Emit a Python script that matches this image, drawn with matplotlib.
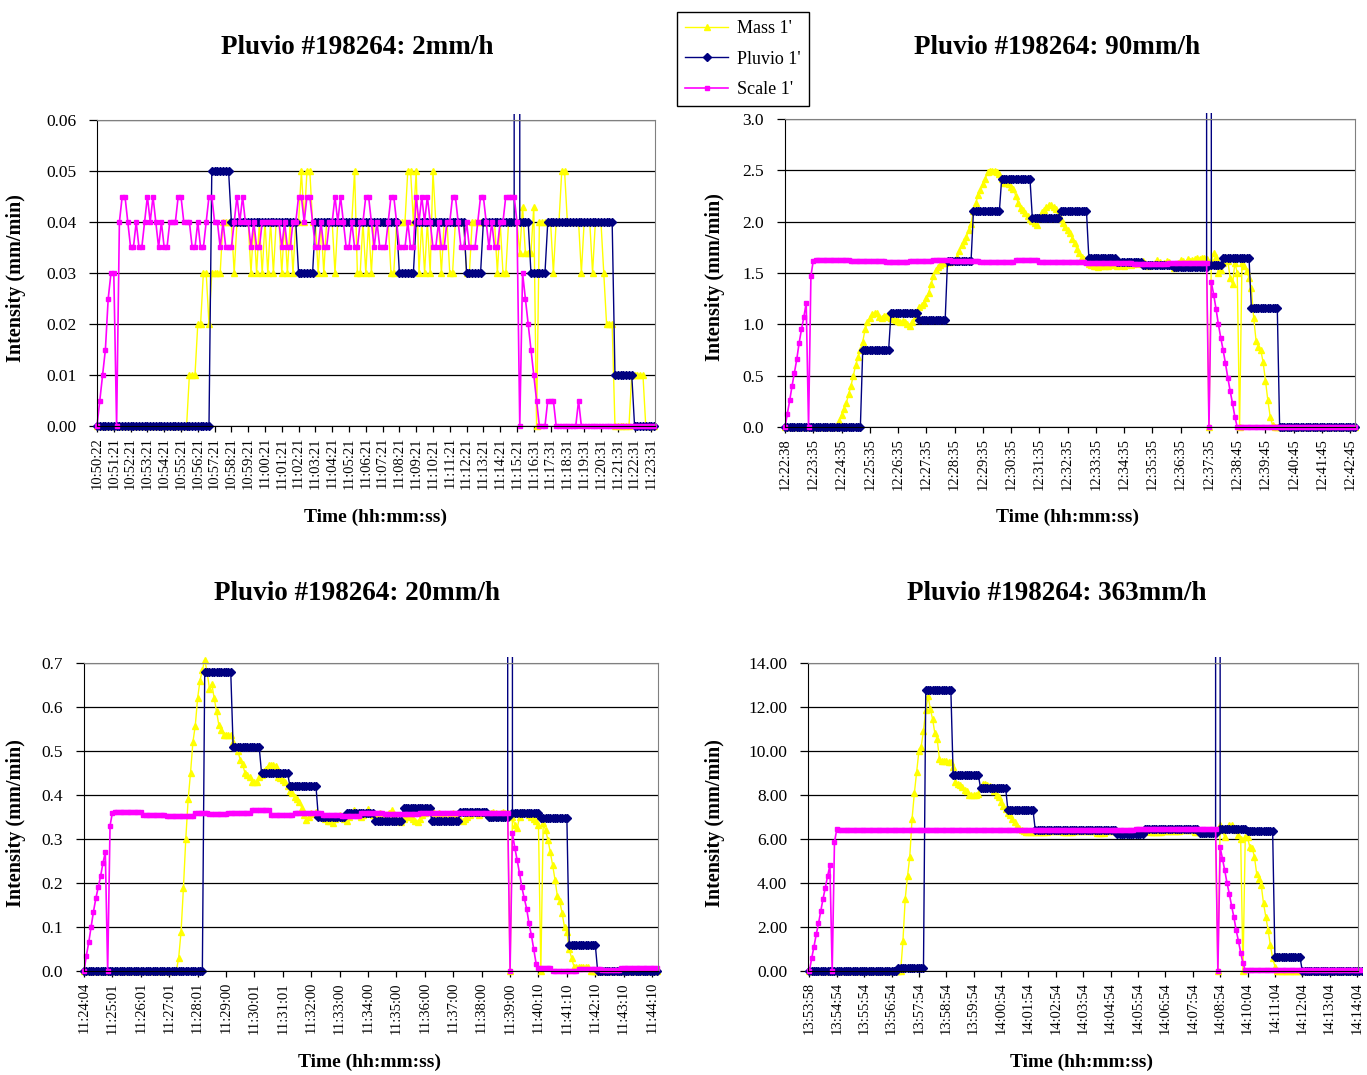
"""
Pluvio #198264 intensity comparison: Mass / Pluvio / Scale, four rain rates.
"""

import matplotlib
matplotlib.use("Agg")
import matplotlib.pyplot as plt
import numpy as np
from matplotlib.transforms import Bbox, TransformedBbox

plt.rcParams["font.family"] = "serif"
plt.rcParams["font.serif"] = ["Liberation Serif", "DejaVu Serif"]

W, H = 1367, 1075

# ---------------------------------------------------------------------------
# Data: series stored as (value, run length) pairs
# ---------------------------------------------------------------------------

# --- 2 mm/h ---------------------------------------------------------------
p1_labels = ["10:50:22", "10:51:21", "10:52:21", "10:53:21", "10:54:21", "10:55:21",
             "10:56:21", "10:57:21", "10:58:21", "10:59:21", "11:00:21", "11:01:21",
             "11:02:21", "11:03:21", "11:04:21", "11:05:21", "11:06:21", "11:07:21",
             "11:08:21", "11:09:21", "11:10:21", "11:11:21", "11:12:21", "11:13:21",
             "11:14:21", "11:15:21", "11:16:31", "11:17:31", "11:18:31", "11:19:31",
             "11:20:31", "11:21:31", "11:22:31", "11:23:31"]
p1_mass = [(0, 33), (0.01, 3), (0.02, 2), (0.03, 2), (0.02, 1), (0.03, 2),
           (0.03, 2), (0.04, 4), (0.03, 1), (0.04, 5), (0.03, 1), (0.04, 1), (0.03, 1),
           (0.04, 1), (0.03, 1), (0.04, 1), (0.03, 1), (0.04, 1), (0.03, 1), (0.04, 2),
           (0.03, 1), (0.04, 1), (0.03, 1), (0.04, 1), (0.03, 1), (0.04, 2), (0.05, 1),
           (0.04, 1), (0.05, 2), (0.04, 2), (0.03, 1), (0.04, 1), (0.03, 1), (0.04, 3),
           (0.03, 1), (0.04, 6), (0.05, 1), (0.03, 2), (0.04, 1), (0.03, 1), (0.04, 1),
           (0.03, 1), (0.04, 6), (0.03, 2), (0.04, 4), (0.05, 2), (0.04, 1), (0.05, 1),
           (0.03, 1), (0.04, 1), (0.03, 1), (0.04, 1), (0.03, 1), (0.05, 1), (0.04, 2),
           (0.03, 1), (0.04, 2), (0.03, 2), (0.04, 4), (0.03, 2), (0.04, 9), (0.03, 1),
           (0.04, 1), (0.03, 2), (0.04, 4),
           (0.034, 1), (0.043, 1), (0.034, 3), (0.043, 1), (0, 1), (0.04, 5), (0.03, 1),
           (0.04, 2), (0.05, 2), (0.04, 5), (0.03, 1), (0.04, 3), (0.03, 1), (0.04, 3),
           (0.03, 1), (0.02, 3), (0, 6), (0.01, 5), (0, 4)]
p1_pluvio = [(0, 41), (0.05, 7), (0.04, 24), (0.03, 6), (0.04, 30), (0.03, 6), (0.04, 18),
             (0.03, 6), (0.04, 12), (999, 1), (0.04, 4), (0.03, 6), (0.04, 24), (0.01, 7),
             (0, 8)]
p1_scale = [(0, 1), (0.005, 1), (0.01, 1), (0.015, 1), (0.025, 1), (0.03, 2), (0, 1), (0.04, 1),
            (0.045, 2), (0.04, 1), (0.035, 2), (0.04, 1), (0.035, 2), (0.04, 1),
            (0.045, 1), (0.04, 1), (0.045, 1), (0.04, 1),
            (0.035, 1), (0.04, 1), (0.035, 2), (0.04, 1), (0.04, 2), (0.045, 2), (0.04, 3),
            (0.035, 2), (0.04, 1), (0.035, 2), (0.04, 1), (0.045, 2), (0.04, 1),
            (0.04, 1), (0.035, 1), (0.04, 1), (0.035, 3), (0.04, 1),
            (0.045, 1), (0.04, 1), (0.045, 1), (0.04, 1),
            (0.04, 1), (0.035, 1), (0.04, 1), (0.035, 2), (0.04, 2), (0.04, 5),
            (0.035, 1), (0.04, 1), (0.035, 2), (0.04, 2),
            (0.045, 2), (0.04, 1), (0.045, 2), (0.04, 1),
            (0.035, 2), (0.04, 1), (0.035, 2), (0.04, 1),
            (0.04, 1), (0.045, 1), (0.04, 1), (0.045, 1), (0.04, 1),
            (0.035, 2), (0.04, 1), (0.035, 2), (0.04, 1),
            (0.04, 1), (0.045, 2), (0.04, 1),
            (0.035, 1), (0.04, 1), (0.035, 3), (0.04, 1), (0.045, 2), (0.04, 1),
            (0.035, 3), (0.04, 1), (0.035, 2), (0.045, 1), (0.04, 1), (0.045, 1),
            (0.04, 1), (0.045, 1), (0.04, 1),
            (0.035, 2), (0.04, 1), (0.035, 2), (0.04, 1), (0.04, 1), (0.045, 2), (0.04, 1),
            (0.035, 2), (0.04, 1), (0.035, 3), (0.04, 1), (0.045, 2), (0.04, 1),
            (0.035, 1), (0.04, 1), (0.035, 2), (0.04, 2), (0.045, 4), (0.04, 1),
            (0, 1), (0.03, 1), (0.025, 1), (0.02, 1), (0.015, 1), (0.01, 1), (0.005, 1),
            (0, 3), (0.005, 3), (0, 8), (0.005, 1), (0, 27)]

# --- 90 mm/h --------------------------------------------------------------
p2_labels = ["12:22:38", "12:23:35", "12:24:35", "12:25:35", "12:26:35", "12:27:35",
             "12:28:35", "12:29:35", "12:30:35", "12:31:35", "12:32:35", "12:33:35",
             "12:34:35", "12:35:35", "12:36:35", "12:37:35", "12:38:45", "12:39:45",
             "12:40:45", "12:41:45", "12:42:45"]
p2_mass_vals = [0.06, 0.12, 0.18, 0.23, 0.32, 0.40, 0.50, 0.60, 0.68, 0.75,
                0.83, 0.95, 1.02, 1.06, 1.10, 1.11, 1.11, 1.07, 1.06, 1.08,
                1.08, 1.07, 1.06, 1.05, 1.04, 1.03, 1.02, 1.03, 1.02, 1.00,
                0.98, 1.02, 1.06, 1.12, 1.17, 1.19, 1.21, 1.26, 1.31, 1.39,
                1.47, 1.53, 1.56, 1.58, 1.60, 1.60, 1.61, 1.61, 1.62, 1.62,
                1.66, 1.71, 1.77, 1.81, 1.85, 1.92, 1.98, 2.10, 2.18, 2.26,
                2.31, 2.37, 2.42, 2.48, 2.49, 2.49, 2.49, 2.48, 2.46, 2.42,
                2.38, 2.38, 2.37, 2.34, 2.32, 2.25, 2.18, 2.13, 2.11, 2.08,
                2.06, 2.03, 2.01, 1.99, 1.97, 2.05, 2.09, 2.11, 2.14, 2.16,
                2.16, 2.14, 2.12, 2.07, 2.03, 1.99, 1.95, 1.92, 1.89, 1.83,
                1.79, 1.73, 1.69, 1.66, 1.64, 1.62, 1.59, 1.58,
                1.57, 1.57, 1.56, 1.57, 1.58, 1.57, 1.57, 1.58, 1.59, 1.58,
                1.57, 1.58, 1.58, 1.57, 1.59, 1.59, 1.58, 1.59, 1.60, 1.61,
                1.59, 1.62, 1.60, 1.57, 1.58, 1.59, 1.60, 1.63, 1.61, 1.59,
                1.60, 1.62, 1.61, 1.59, 1.55, 1.58, 1.60, 1.63, 1.62, 1.60,
                1.64, 1.62, 1.63, 1.64, 1.65, 1.64, 1.65, 1.65, 1.64,
                0, 1.62, 1.69, 1.66, 1.50, 1.53, 1.60, 1.66, 1.62, 1.45,
                1.39, 1.60, 1.50, 0, 1.60, 1.57, 1.52, 1.45, 1.35, 1.06,
                0.84, 0.78, 0.75, 0.63, 0.45, 0.26, 0.10, 0.02]
p2_mass = [(0, 23)] + [(v, 1) for v in p2_mass_vals] + [(0, 35)]
p2_pluvio = [(0, 33), (0.75, 12), (1.11, 12), (1.04, 12), (1.62, 11), (2.10, 12), (2.42, 13),
             (2.04, 12), (2.10, 12), (1.645, 12), (1.61, 11), (1.575, 13), (1.555, 15),
             (999, 1), (1.58, 5), (1.65, 12), (1.16, 12), (0, 33)]
p2_scale = [(0, 1), (0.13, 1), (0.26, 1), (0.40, 1), (0.53, 1), (0.66, 1), (0.82, 1),
            (0.95, 1), (1.07, 1), (1.21, 1), (0, 1), (1.47, 1), (1.62, 1),
            (1.63, 15), (1.62, 15), (1.61, 10), (1.62, 10), (1.63, 8), (1.62, 12),
            (1.61, 15), (1.63, 10), (1.61, 20), (1.60, 20), (1.59, 15), (1.60, 17),
            (0, 1), (1.41, 1), (1.29, 1), (1.15, 1), (1.00, 1), (0.87, 1), (0.75, 1),
            (0.62, 1), (0.48, 1), (0.35, 1), (0.23, 1), (0.10, 1), (0, 51)]

# --- 20 mm/h --------------------------------------------------------------
p3_labels = ["11:24:04", "11:25:01", "11:26:01", "11:27:01", "11:28:01", "11:29:00",
             "11:30:01", "11:31:01", "11:32:00", "11:33:00", "11:34:00", "11:35:00",
             "11:36:00", "11:37:00", "11:38:00", "11:39:00", "11:40:10", "11:41:10",
             "11:42:10", "11:43:10", "11:44:10"]
p3_mass_vals = [0.03, 0.089, 0.188, 0.30, 0.39, 0.45, 0.52, 0.557, 0.62, 0.66,
                0.684, 0.707, 0.68, 0.642, 0.652, 0.62, 0.59, 0.558, 0.548, 0.536,
                0.536, 0.536, 0.536, 0.52, 0.51, 0.50, 0.48, 0.47, 0.45, 0.445,
                0.44, 0.43, 0.43, 0.43, 0.44, 0.445, 0.455, 0.46, 0.468, 0.468,
                0.468, 0.465, 0.44, 0.438, 0.435, 0.43, 0.42, 0.41, 0.404, 0.396,
                0.39, 0.385, 0.37, 0.355, 0.343, 0.35, 0.36, 0.356, 0.362, 0.355,
                0.35, 0.35,
                0.345, 0.34, 0.34, 0.336, 0.345, 0.35, 0.355, 0.35, 0.345, 0.34,
                0.35, 0.36, 0.366, 0.36, 0.355, 0.35, 0.355, 0.36, 0.368, 0.36,
                0.355, 0.35, 0.355, 0.36, 0.355, 0.35, 0.352, 0.36, 0.365, 0.355,
                0.345, 0.34, 0.338, 0.345, 0.35, 0.355, 0.35, 0.345, 0.34, 0.338,
                0.345, 0.355, 0.36, 0.362, 0.366, 0.366, 0.36, 0.355, 0.36, 0.355,
                0.35, 0.345, 0.35, 0.355, 0.36, 0.355, 0.35, 0.345, 0.34, 0.345,
                0.35, 0.355, 0.36, 0.362, 0.36, 0.355, 0.36, 0.362, 0.36, 0.355,
                0.36, 0.362, 0.36, 0.355, 0.36, 0.362, 0.36, 0.36,
                0, 0.35, 0.332, 0.324, 0.35, 0.362, 0.362, 0.36, 0.355, 0.35,
                0.345, 0.34, 0.332, 0, 0.336, 0.32, 0.298, 0.27, 0.24, 0.207,
                0.17, 0.158, 0.131, 0.10, 0.089, 0.05, 0.029, 0.01, 0.01, 0.01,
                0.01, 0.01, 0.01, 0.01]
p3_mass = [(0, 40)] + [(v, 1) for v in p3_mass_vals] + [(0, 29)]
p3_pluvio = [(0, 51), (0.68, 12), (0.51, 12), (0.45, 12), (0.42, 12), (0.35, 12), (0.36, 12),
             (0.34, 12), (0.37, 12), (0.34, 12), (0.362, 12), (0.35, 9), (999, 1),
             (0.36, 12), (0.348, 12), (0.06, 12), (0, 26)]
p3_scale = [(0, 1), (0.035, 1), (0.065, 1), (0.10, 1), (0.135, 1), (0.165, 1), (0.19, 1),
            (0.215, 1), (0.245, 1), (0.27, 1), (0, 1), (0.33, 1), (0.36, 1),
            (0.362, 12), (0.355, 10), (0.353, 12), (0.36, 6), (0.356, 8), (0.36, 10),
            (0.365, 8), (0.355, 10), (0.36, 12), (0.355, 8), (0.352, 8), (0.36, 10),
            (0.356, 15), (0.36, 10), (0.358, 15), (0.36, 13),
            (0, 1), (0.313, 1), (0.28, 1), (0.252, 1), (0.222, 1), (0.19, 1), (0.165, 1),
            (0.142, 1), (0.108, 1), (0.082, 1), (0.05, 1), (0.017, 1), (0.006, 1),
            (0.007, 5), (0, 11), (0.005, 10), (0.003, 8), (0.007, 16)]

# --- 363 mm/h -------------------------------------------------------------
p4_labels = ["13:53:58", "13:54:54", "13:55:54", "13:56:54", "13:57:54", "13:58:54",
             "13:59:54", "14:00:54", "14:01:54", "14:02:54", "14:03:54", "14:04:54",
             "14:05:54", "14:06:54", "14:07:54", "14:08:54", "14:10:04", "14:11:04",
             "14:12:04", "14:13:04", "14:14:04"]
p4_mass_rise = [1.37, 3.29, 4.3, 5.2, 6.92, 8.08, 9.03, 10.0, 10.2, 10.92,
                11.86, 12.5, 11.9, 11.45, 10.8, 10.54, 9.64, 9.56, 9.56, 9.54,
                9.52, 9.5, 9.26, 8.61, 8.5, 8.45, 8.35, 8.25, 8.2, 7.98,
                7.98, 7.98, 8.0, 8.05, 8.3, 8.5, 8.5, 8.45, 8.4, 8.3,
                8.2, 8.0, 7.9, 7.67, 7.5, 7.37, 7.2, 7.1, 6.92, 6.77,
                6.59, 6.5, 6.4, 6.35, 6.32, 6.31]
p4_mass_tail = [0, 6.62, 6.4, 6.09, 6.5, 6.62, 6.62, 6.5, 6.4, 6.2,
                6.01, 0, 6.1, 6.09, 5.63, 5.6, 5.2, 4.43, 4.2, 3.9,
                3.07, 2.46, 1.86, 1.18, 0.6, 0.2]
p4_mass = ([(0, 41)] + [(v, 1) for v in p4_mass_rise]
           + [(6.33, 8), (6.38, 6), (6.30, 5), (6.35, 10), (6.28, 4), (6.36, 8),
              (6.32, 6), (6.40, 5), (6.30, 6), (6.35, 8), (6.42, 6), (6.33, 10)]
           + [(v, 1) for v in p4_mass_tail] + [(0, 38)])
p4_pluvio = [(0, 39), (0.12, 12), (12.76, 12), (8.93, 12), (8.32, 12), (7.30, 12), (6.40, 36),
             (6.24, 12), (6.47, 24), (6.27, 8), (999, 1), (6.44, 12), (6.36, 12), (0.62, 12),
             (0, 27)]
p4_scale = [(0, 1), (0.57, 1), (1.1, 1), (1.66, 1), (2.16, 1), (2.72, 1), (3.29, 1),
            (3.79, 1), (4.32, 1), (4.8, 1), (0, 1), (5.86, 1), (6.44, 1),
            (6.42, 30), (6.40, 30), (6.43, 30), (6.41, 40), (6.44, 36),
            (0, 1), (5.63, 1), (5.1, 1), (4.58, 1), (4.0, 1), (3.52, 1), (2.96, 1),
            (2.46, 1), (1.86, 1), (1.37, 1), (0.83, 1), (0.35, 1), (0.05, 52)]


def expand(runs):
    vals = [v for v, n in runs]
    counts = [n for v, n in runs]
    return np.repeat(vals, counts)


# ---------------------------------------------------------------------------
# Layout (pixel boxes of the plot areas)
# ---------------------------------------------------------------------------
panels = [
    dict(box=(97, 120, 655, 426), title="Pluvio #198264: 2mm/h", tcx=357, tcy=48,
         xlx=375, xly=517, ylx=16, yly=278,
         mass=p1_mass, pluvio=p1_pluvio, scale=p1_scale, labels=p1_labels, step=6,
         xlim=(0, 199.3), ymax=0.06, ystep=0.01, fmt="{:.2f}"),
    dict(box=(785, 119, 1355, 427), title="Pluvio #198264: 90mm/h", tcx=1057, tcy=48,
         xlx=1068, xly=517, ylx=715, yly=277,
         mass=p2_mass, pluvio=p2_pluvio, scale=p2_scale, labels=p2_labels, step=12,
         xlim=(0, 242), ymax=3.0, ystep=0.5, fmt="{:.1f}"),
    dict(box=(84, 663, 658, 971), title="Pluvio #198264: 20mm/h", tcx=357, tcy=594,
         xlx=369, xly=1062, ylx=16, yly=823,
         mass=p3_mass, pluvio=p3_pluvio, scale=p3_scale, labels=p3_labels, step=12,
         xlim=(0, 242.5), ymax=0.7, ystep=0.1, fmt="{:.1f}"),
    dict(box=(808, 663, 1358, 971), title="Pluvio #198264: 363mm/h", tcx=1057, tcy=594,
         xlx=1082, xly=1062, ylx=715, yly=823,
         mass=p4_mass, pluvio=p4_pluvio, scale=p4_scale, labels=p4_labels, step=12,
         xlim=(-0.6, 240.4), ymax=14.0, ystep=2.0, fmt="{:.2f}"),
]

YELLOW = "#FFFF00"
NAVY = "#000080"
MAGENTA = "#FF00FF"

fig = plt.figure(figsize=(W / 100, H / 100), dpi=100)
handles = None

for p in panels:
    x0, y0, x1, y1 = p["box"]
    ax = fig.add_axes([x0 / W, 1 - y1 / H, (x1 - x0) / W, (y1 - y0) / H])

    mass = expand(p["mass"])
    pluvio = expand(p["pluvio"])
    scale = expand(p["scale"])

    lm, = ax.plot(np.arange(len(mass)), mass, color=YELLOW, lw=1.0, marker="^",
                  ms=4.5, mec=YELLOW, mfc=YELLOW, label="Mass 1'")
    lp, = ax.plot(np.arange(len(pluvio)), pluvio, color=NAVY, lw=1.0, marker="D",
                  ms=4.5, mec=NAVY, mfc=NAVY, label="Pluvio 1'")
    ls, = ax.plot(np.arange(len(scale)), scale, color=MAGENTA, lw=1.2, marker="s",
                  ms=3.5, mec=MAGENTA, mfc=MAGENTA, label="Scale 1'")
    if handles is None:
        handles = [lm, lp, ls]

    # let markers overhang the frame a little, as in the original
    clip = TransformedBbox(Bbox([[-0.012, -0.03], [1.008, 1.018]]), ax.transAxes)
    for ln in (lm, lp, ls):
        ln.set_clip_path(None)
        ln.set_clip_box(clip)

    ax.set_xlim(*p["xlim"])
    ax.set_ylim(0, p["ymax"])
    yt = np.arange(0, p["ymax"] + p["ystep"] / 2, p["ystep"])
    ax.set_yticks(yt)
    ax.set_yticklabels([p["fmt"].format(v) for v in yt], fontsize=12.5)
    xt = np.arange(len(p["labels"])) * p["step"]
    ax.set_xticks(xt)
    ax.set_xticklabels(p["labels"], rotation=90, fontsize=10.5)

    ax.yaxis.grid(True, color="black", lw=0.9)
    ax.set_axisbelow(True)
    ax.tick_params(axis="y", direction="out", length=6, width=0.9, pad=9)
    ax.tick_params(axis="x", direction="out", length=4, width=0.9, pad=4)
    for side in ("top", "right"):
        ax.spines[side].set_color("#808080")
    for side in ("left", "bottom"):
        ax.spines[side].set_color("black")

    fig.text(p["tcx"] / W, 1 - p["tcy"] / H, p["title"], ha="center", va="center",
             fontsize=19.5, fontweight="bold")
    fig.text(p["xlx"] / W, 1 - p["xly"] / H, "Time (hh:mm:ss)", ha="center", va="center",
             fontsize=14, fontweight="bold")
    fig.text(p["ylx"] / W, 1 - p["yly"] / H, "Intensity (mm/min)", ha="center",
             va="center", rotation=90, fontsize=14.5, fontweight="bold")

leg = fig.legend(handles, [h.get_label() for h in handles], loc="upper left",
                 bbox_to_anchor=(677 / W, 1 - 12 / H), fontsize=13, frameon=True,
                 fancybox=False, framealpha=1, edgecolor="black", borderpad=0.45,
                 handlelength=2.4, handletextpad=0.5, labelspacing=0.75,
                 borderaxespad=0)
leg.get_frame().set_linewidth(1.0)

fig.savefig("out.png", dpi=100)
plt.close(fig)
